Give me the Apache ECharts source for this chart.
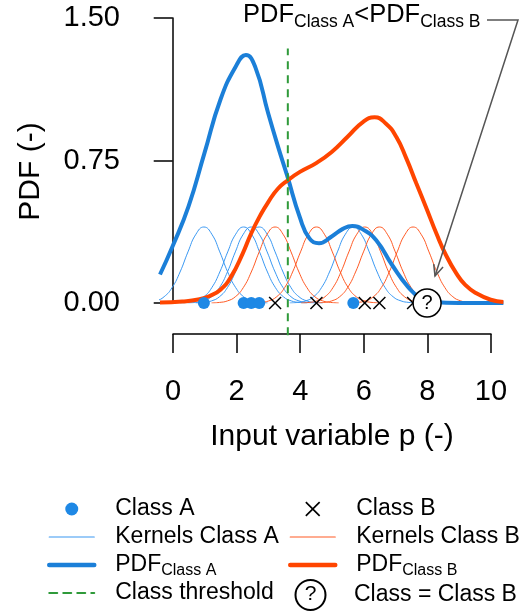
<!DOCTYPE html>
<html>
<head>
<meta charset="utf-8">
<script src="https://cdn.jsdelivr.net/npm/echarts@6/dist/echarts.min.js"></script>
<style>
  html, body { margin: 0; padding: 0; background: #fff; }
  #chart { width: 523px; height: 615px; }
</style>
</head>
<body>
<div id="chart"></div>
<script>
// observations on the p axis
const classA = [0.98, 2.23, 2.47, 2.72, 5.68];
const classB = [3.22, 4.52, 6.04, 6.5, 7.56];
const testPoint = [8.0];
const threshold = 3.62;
const thresholdSpan = [-0.17, 1.34];

const kernelOffsets = [-2, -1.75, -1.5, -1.25, -1, -0.75, -0.5, -0.25, 0, 0.25, 0.5, 0.75, 1, 1.25, 1.5, 1.75, 2];
const kernelHeights = [0, 0.003, 0.011, 0.033, 0.081, 0.163, 0.269, 0.362, 0.4, 0.362, 0.269, 0.163, 0.081, 0.033, 0.011, 0.003, 0];

// estimated densities
const pdfAx = [-0.4, 0, 0.5, 1.0, 1.5, 2.0, 2.3, 2.6, 3.0, 3.3, 3.6, 4.0, 4.3, 4.6, 5.0, 5.35, 5.65, 6.0, 6.4, 6.9, 7.4, 7.8, 8.2, 9.0, 10.4];
const pdfAy = [0.15, 0.30, 0.51, 0.79, 1.07, 1.25, 1.305, 1.24, 1.0, 0.83, 0.67, 0.45, 0.34, 0.315, 0.35, 0.39, 0.405, 0.385, 0.33, 0.2, 0.085, 0.025, 0.005, 0, 0];
const pdfBx = [-0.4, 0.3, 0.8, 1.16, 1.5, 1.84, 2.2, 2.47, 2.75, 3.0, 3.3, 3.63, 4.0, 4.5, 5.0, 5.5, 6.0, 6.35, 6.7, 7.03, 7.35, 7.66, 8.0, 8.29, 8.6, 8.92, 9.2, 9.55, 10.0, 10.4];
const pdfBy = [0.003, 0.008, 0.018, 0.037, 0.07, 0.14, 0.26, 0.367, 0.46, 0.53, 0.6, 0.647, 0.69, 0.735, 0.795, 0.875, 0.955, 0.977, 0.945, 0.875, 0.76, 0.63, 0.49, 0.367, 0.25, 0.156, 0.095, 0.051, 0.017, 0.005];

// axis ticks
const xTicks = [0, 2, 4, 6, 8, 10];
const yTicks = [0, 0.75, 1.5];

const FONT = 'Liberation Sans, Arial, sans-serif';
const blue = '#1b7fd8';
const blueThin = '#3a98f2';
const orange = '#ff4500';
const orangeThin = '#ff5a24';
const green = '#2f9a3a';

const zip = (xs, ys) => xs.map((x, i) => [x, ys[i]]);
const kernel = (c) => kernelOffsets.map((d, i) => [c + d, kernelHeights[i]]);

const crossPath = 'path://M0,8L8,0L50,42L92,0L100,8L58,50L100,92L92,100L50,58L8,100L0,92L42,50Z';

let myChart = echarts.init(document.getElementById('chart'));

let series = [];
classA.forEach(c => {
  series.push({
    name: 'Kernels Class A', type: 'line', data: kernel(c),
    symbol: 'none', smooth: 0.5, z: 2,
    color: blueThin, lineStyle: { color: blueThin, width: 1 }
  });
});
classB.forEach(c => {
  series.push({
    name: 'Kernels Class B', type: 'line', data: kernel(c),
    symbol: 'none', smooth: 0.5, z: 2,
    color: orangeThin, lineStyle: { color: orangeThin, width: 1 }
  });
});
series.push({
  name: 'PDF_Class A', type: 'line', data: zip(pdfAx, pdfAy),
  symbol: 'none', smooth: 0.5, z: 3,
  color: blue, lineStyle: { color: blue, width: 4 }
});
series.push({
  name: 'PDF_Class B', type: 'line', data: zip(pdfBx, pdfBy),
  symbol: 'none', smooth: 0.5, z: 4,
  color: orange, lineStyle: { color: orange, width: 4 }
});
series.push({
  name: 'Class threshold', type: 'line', clip: false,
  data: thresholdSpan.map(v => [threshold, v]),
  symbol: 'none', z: 5,
  color: green, lineStyle: { color: green, width: 2, type: [8, 6] }
});
series.push({
  name: 'Class A', type: 'scatter', data: classA.map(v => [v, 0]),
  symbol: 'circle', symbolSize: 12, clip: false, z: 6,
  itemStyle: { color: '#1e88e5', opacity: 1 }
});
series.push({
  name: 'Class B', type: 'scatter', data: classB.map(v => [v, 0]),
  symbol: crossPath, symbolSize: 13, clip: false, z: 6,
  itemStyle: { color: '#000', opacity: 1 }
});
series.push({
  name: 'Class = Class B', type: 'scatter', data: testPoint.map(v => [v, 0]),
  symbol: 'circle', symbolSize: 28, clip: false, z: 7,
  itemStyle: { color: '#fff', borderColor: '#000', borderWidth: 1.5, opacity: 1 },
  label: { show: true, position: 'inside', formatter: '?', color: '#000', fontSize: 20, fontFamily: FONT }
});

const legendText = {
  fontSize: 23, fontFamily: FONT, color: '#000', lineHeight: 28, padding: [0, 0, 0, 16],
  rich: {
    m: { fontSize: 23, fontFamily: FONT, color: '#000', lineHeight: 28, verticalAlign: 'middle' },
    s: { fontSize: 16, fontFamily: FONT, color: '#000', lineHeight: 16, verticalAlign: 'bottom' }
  }
};
const legendFmt = (name) => name.indexOf('PDF_') === 0 ? '{m|PDF}{s|' + name.slice(4) + '}' : name;
const lineItem = (name, w, c) => ({ name: name, itemStyle: { opacity: 0 }, lineStyle: { width: w, color: c, cap: 'round' } });
const legendBase = {
  orient: 'vertical', padding: 0, itemGap: 0, itemWidth: 45, itemHeight: 13,
  selectedMode: false, textStyle: legendText, formatter: legendFmt
};

// annotation arrow geometry
const corner = [518, 20];
const tip = [435, 276];
const ang = Math.atan2(tip[1] - corner[1], tip[0] - corner[0]);
const head = (a) => [tip[0] - 12 * Math.cos(ang + a), tip[1] - 12 * Math.sin(ang + a)];

let option = {
  animation: false,
  backgroundColor: '#fff',
  grid: [
    { left: 160, right: 19.6, top: 18, height: 285 },
    { left: 173, right: 32, top: 333, height: 1 }
  ],
  xAxis: [
    { gridIndex: 0, type: 'value', min: -0.4, max: 10.4, show: false },
    {
      gridIndex: 1, type: 'value', min: 0, max: 10, interval: 2, position: 'bottom',
      axisLine: { show: true, lineStyle: { color: '#000', width: 1.5 } },
      axisTick: { show: true, length: 19, lineStyle: { color: '#000', width: 1.5 } },
      axisLabel: { fontSize: 29, fontFamily: FONT, color: '#000', margin: 43,
        formatter: v => xTicks.indexOf(v) >= 0 ? String(v) : '' },
      splitLine: { show: false },
      name: 'Input variable p (-)', nameLocation: 'middle', nameGap: 88,
      nameTextStyle: { fontSize: 30, fontFamily: FONT, color: '#000' }
    }
  ],
  yAxis: [
    {
      gridIndex: 0, type: 'value', min: 0, max: 1.5, interval: 0.75,
      axisLine: { show: true, lineStyle: { color: '#000', width: 1.5 } },
      axisTick: { show: true, length: 19, lineStyle: { color: '#000', width: 1.5 } },
      axisLabel: { fontSize: 29, fontFamily: FONT, color: '#000', margin: 40,
        formatter: v => yTicks.indexOf(v) >= 0 ? v.toFixed(2) : '' },
      splitLine: { show: false },
      name: 'PDF (-)', nameLocation: 'middle', nameGap: 114,
      nameTextStyle: { fontSize: 30, fontFamily: FONT, color: '#000', padding: [0, 22, 0, 0] }
    },
    { gridIndex: 1, type: 'value', min: 0, max: 1, show: false }
  ],
  legend: [
    Object.assign({}, legendBase, { left: 47, top: 495,
      data: ['Class A', lineItem('Kernels Class A', 1.2, blueThin), lineItem('PDF_Class A', 4.5, blue), lineItem('Class threshold', 2, green)] }),
    Object.assign({}, legendBase, { left: 288, top: 495, itemHeight: 15,
      data: ['Class B', lineItem('Kernels Class B', 1.2, orangeThin), lineItem('PDF_Class B', 4.5, orange)] }),
    Object.assign({}, legendBase, { left: 294.5, top: 579, itemHeight: 30,
      data: ['Class = Class B'] })
  ],
  graphic: [
    {
      type: 'text', left: 243, top: 1.5, z: 100,
      style: {
        text: '{m|PDF}{s|Class A}{m|<PDF}{s|Class B}',
        rich: {
          m: { fontSize: 25.5, fontFamily: FONT, fill: '#000', lineHeight: 34, verticalAlign: 'middle' },
          s: { fontSize: 17.5, fontFamily: FONT, fill: '#000', lineHeight: 17.5, verticalAlign: 'bottom' }
        }
      }
    },
    {
      type: 'polyline', z: 100,
      shape: { points: [[487, 20], corner, tip] },
      style: { stroke: '#555', lineWidth: 1.5, fill: null }
    },
    {
      type: 'polyline', z: 100,
      shape: { points: [head(0.42), tip, head(-0.42)] },
      style: { stroke: '#555', lineWidth: 1.5, fill: null }
    },
    {
      type: 'text', x: 310.5, y: 594, z: 100,
      style: { text: '?', fontSize: 21, fontFamily: FONT, fill: '#000', align: 'center', verticalAlign: 'middle' }
    }
  ],
  series: series
};

myChart.setOption(option);
</script>
</body>
</html>
